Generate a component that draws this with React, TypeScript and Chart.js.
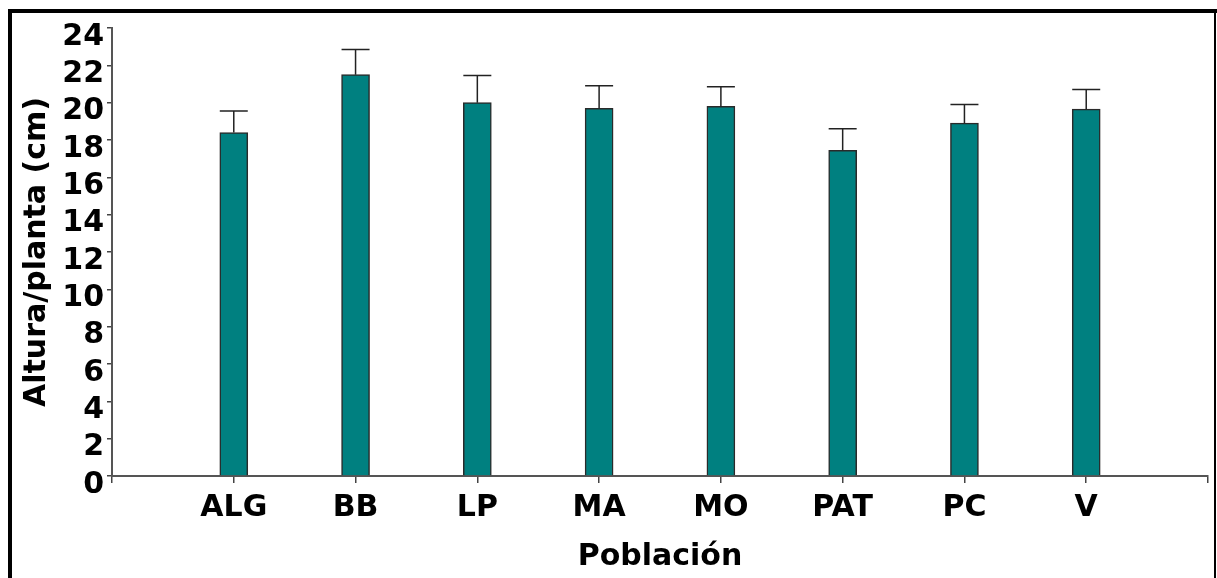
import React, { useEffect, useRef } from "react";
import { Chart, registerables } from "chart.js";

Chart.register(...registerables);

const categories = ["", "ALG", "BB", "LP", "MA", "MO", "PAT", "PC", "V", ""];
const alturaMedia = [null, 18.4, 21.5, 20.0, 19.7, 19.8, 17.45, 18.9, 19.65, null];
const errorSuperior = [null, 1.15, 1.35, 1.45, 1.2, 1.05, 1.15, 1.0, 1.05, null];
const yTicks = [0, 2, 4, 6, 8, 10, 12, 14, 16, 18, 20, 22, 24];

const FONT = "'DejaVu Sans', 'Liberation Sans', Arial, sans-serif";

const framePlugin = {
  id: "frame",
  beforeDraw(chart: any) {
    const ctx = chart.ctx;
    ctx.save();
    ctx.fillStyle = "#ffffff";
    ctx.fillRect(0, 0, chart.width, chart.height);
    ctx.fillStyle = "#000000";
    ctx.fillRect(8, 9, chart.width - 8, 4);
    ctx.fillRect(8, 9, 4, chart.height - 9);
    ctx.fillRect(1214, 9, 2, chart.height - 9);
    ctx.restore();
  },
};

const errorBarPlugin = {
  id: "errorBars",
  afterDatasetsDraw(chart: any) {
    const ctx = chart.ctx;
    const meta = chart.getDatasetMeta(0);
    const yScale = chart.scales.y;
    ctx.save();
    ctx.strokeStyle = "#222222";
    ctx.lineWidth = 1.5;
    meta.data.forEach((bar: any, i: number) => {
      const v = alturaMedia[i];
      const e = errorSuperior[i];
      if (v == null || e == null) return;
      const x = bar.x;
      const yTop = yScale.getPixelForValue(v);
      const yCap = yScale.getPixelForValue(v + e);
      const half = bar.width / 2;
      ctx.beginPath();
      ctx.moveTo(x, yTop);
      ctx.lineTo(x, yCap);
      ctx.moveTo(x - half, yCap);
      ctx.lineTo(x + half, yCap);
      ctx.stroke();
    });
    ctx.restore();
  },
};

export default function App() {
  const canvasRef = useRef<HTMLCanvasElement | null>(null);

  useEffect(() => {
    if (!canvasRef.current) return;
    const chart = new Chart(canvasRef.current, {
      type: "bar",
      data: {
        labels: categories,
        datasets: [
          {
            data: alturaMedia as any,
            backgroundColor: "#008080",
            borderColor: "#2a2a2a",
            borderWidth: 1.5,
            barThickness: 28,
          },
        ],
      },
      options: {
        animation: false,
        responsive: false,
        maintainAspectRatio: false,
        layout: { padding: { left: 0, right: 9, top: 28, bottom: 0 } },
        plugins: {
          legend: { display: false },
          tooltip: { enabled: false },
        },
        scales: {
          x: {
            offset: false,
            afterFit: (s: any) => {
              s.height = 102;
            },
            grid: {
              offset: false,
              drawOnChartArea: false,
              drawTicks: true,
              tickLength: 7,
              color: "#444444",
              lineWidth: 1.5,
            },
            border: { display: true, color: "#555555", width: 2 },
            ticks: {
              color: "#000000",
              font: { family: FONT, size: 30, weight: "bold" },
              padding: 7,
              autoSkip: false,
              maxRotation: 0,
            },
            title: {
              display: true,
              text: "Población",
              color: "#000000",
              font: { family: FONT, size: 30, weight: "bold" },
              padding: { top: 0, bottom: 3 },
            },
          },
          y: {
            min: 0,
            max: 24,
            afterFit: (s: any) => {
              s.width = 112;
            },
            afterBuildTicks: (s: any) => {
              s.ticks = yTicks.map((v) => ({ value: v }));
            },
            grid: {
              drawOnChartArea: false,
              drawTicks: true,
              tickLength: 5,
              color: "#444444",
              lineWidth: 1.5,
            },
            border: { display: true, color: "#555555", width: 2 },
            ticks: {
              color: "#000000",
              font: { family: FONT, size: 30, weight: "bold" },
              padding: 3,
              autoSkip: false,
              labelOffset: 9,
            },
            title: {
              display: true,
              text: "Altura/planta (cm)",
              color: "#000000",
              font: { family: FONT, size: 30, weight: "bold" },
              padding: { top: 19, bottom: 0 },
            },
          },
        },
      },
      plugins: [framePlugin, errorBarPlugin],
    });
    return () => chart.destroy();
  }, []);

  return (
    <div style={{ position: "absolute", left: 0, top: 0, width: 1217, height: 578 }}>
      <canvas ref={canvasRef} width={1217} height={578} style={{ display: "block" }} />
    </div>
  );
}
